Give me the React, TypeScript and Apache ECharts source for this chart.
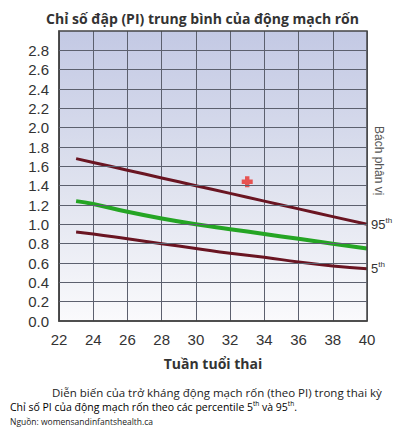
import React, { useEffect, useRef } from "react";
import * as echarts from "echarts";

const weeks = [23, 24, 26, 28, 30, 32, 34, 36, 38, 40];
const p95 = [1.68, 1.64, 1.56, 1.48, 1.40, 1.32, 1.24, 1.16, 1.08, 1.0];
const mean = [1.24, 1.21, 1.13, 1.06, 1.0, 0.95, 0.9, 0.85, 0.8, 0.75];
const p5 = [0.92, 0.9, 0.85, 0.8, 0.75, 0.7, 0.66, 0.61, 0.57, 0.54];
const marker = [[33, 1.44]];
const xRange = [22, 40];
const yRange = [0, 3];
const yTicks = [0.2, 0.4, 0.6, 0.8, 1.0, 1.2, 1.4, 1.6, 1.8, 2.0, 2.2, 2.4, 2.6, 2.8];

const title = "Chỉ số đập (PI) trung bình của động mạch rốn";
const xName = "Tuần tuổi thai";
const sideLabel = "Bách phân vị";
const caption1 = "Diễn biến của trở kháng động mạch rốn (theo PI) trong thai kỳ";
const source = "Nguồn: womensandinfantshealth.ca";

const zip = (xs: number[], ys: number[]) => xs.map((x, i) => [x, ys[i]]);

export default function App() {
  const ref = useRef<HTMLDivElement>(null);
  useEffect(() => {
    const chart = echarts.init(ref.current!, null, { renderer: "svg" });
    const maroon = "#6a1522";
    const gridColor = "#5c606e";
    const supRich = {
      b: { fontSize: 13, color: "#333", fontFamily: "Liberation Sans" },
      s: { fontSize: 8, color: "#333", verticalAlign: "top", padding: [0, 0, 8, 0], fontFamily: "Liberation Sans" },
    };
    chart.setOption({
      animation: false,
      backgroundColor: "#ffffff",
      title: {
        text: title,
        left: "center",
        top: 6,
        textStyle: { fontFamily: "Open Sans", fontWeight: "bold", fontSize: 14, color: "#333" },
      },
      grid: {
        left: 59,
        right: 38,
        top: 31,
        bottom: 112,
        show: true,
        borderColor: "#444",
        borderWidth: 1.5,
        z: 4,
      },
      xAxis: {
        type: "value",
        min: xRange[0],
        max: xRange[1],
        interval: 2,
        name: xName,
        nameLocation: "middle",
        nameGap: 35,
        nameTextStyle: { fontFamily: "Open Sans", fontWeight: "bold", fontSize: 14, color: "#333" },
        axisLine: { lineStyle: { color: "#444", width: 1.5 } },
        axisTick: { show: false },
        axisLabel: { fontFamily: "Liberation Sans", fontSize: 15, color: "#333", margin: 11 },
        splitLine: { show: true, lineStyle: { color: gridColor, width: 1 } },
        z: 1,
      },
      yAxis: {
        type: "value",
        min: yRange[0],
        max: yRange[1],
        interval: 0.2,
        axisLine: { show: true, lineStyle: { color: "#444", width: 1.5 } },
        axisTick: { show: false },
        axisLabel: {
          fontFamily: "Liberation Sans",
          fontSize: 15,
          color: "#333",
          margin: 10,
          formatter: (v: number) => (v > 2.9 ? "" : v.toFixed(1)),
        },
        splitLine: { show: false },
        z: 1,
      },
      graphic: [
        {
          type: "text",
          x: 385,
          y: 126,
          rotation: -Math.PI / 2,
          style: { text: sideLabel, fontFamily: "Liberation Sans", fontSize: 12, fill: "#555" },
        },
        {
          type: "text",
          x: 52,
          y: 386,
          style: { text: caption1, fontFamily: "Open Sans", fontSize: 11.5, fill: "#222" },
        },
        {
          type: "text",
          x: 10,
          y: 400,
          style: {
            text: "{a|Chỉ số PI của động mạch rốn theo các percentile 5}{s|th}{a| và 95}{s|th}{a|.}",
            rich: {
              a: { fontFamily: "Open Sans", fontSize: 10.5, color: "#222" },
              s: { fontFamily: "Open Sans", fontSize: 6.5, color: "#222", verticalAlign: "top", padding: [0, 0, 7, 0] },
            },
          },
        },
        {
          type: "text",
          x: 10,
          y: 417,
          style: { text: source, fontFamily: "Open Sans", fontSize: 8.5, fill: "#222" },
        },
      ],
      series: [
        {
          // plot background (lavender gradient), filled down to the x axis
          type: "line",
          data: [
            [xRange[0], yRange[1]],
            [xRange[1], yRange[1]],
          ],
          symbol: "none",
          silent: true,
          z: 0,
          lineStyle: { width: 0, opacity: 0 },
          areaStyle: {
            opacity: 1,
            color: new echarts.graphic.LinearGradient(0, 0, 0, 1, [
              { offset: 0, color: "#c3c9e4" },
              { offset: 0.55, color: "#e0e3ef" },
              { offset: 1, color: "#fafafc" },
            ]),
          },
        },
        {
          // horizontal gridlines
          type: "line",
          data: [],
          silent: true,
          z: 1,
          markLine: {
            silent: true,
            symbol: ["none", "none"],
            label: { show: false },
            lineStyle: { color: gridColor, width: 1, type: "solid" },
            data: yTicks.map((v) => ({ yAxis: v })),
          },
        },
        {
          type: "line",
          data: zip(weeks, p95),
          smooth: true,
          symbol: "none",
          z: 3,
          lineStyle: { color: maroon, width: 3 },
          endLabel: { show: true, formatter: "{b|95}{s|th}", rich: supRich, distance: 4 },
        },
        {
          type: "line",
          data: zip(weeks, mean),
          smooth: true,
          symbol: "none",
          z: 3,
          lineStyle: { color: "#25a524", width: 4 },
        },
        {
          type: "line",
          data: zip(weeks, p5),
          smooth: true,
          symbol: "none",
          z: 3,
          lineStyle: { color: maroon, width: 3 },
          endLabel: { show: true, formatter: "{b|5}{s|th}", rich: supRich, distance: 4 },
        },
        {
          type: "scatter",
          data: marker,
          z: 3,
          symbol: "path://M3,0 H7 V3 H10 V7 H7 V10 H3 V7 H0 V3 H3 Z",
          symbolSize: 11,
          itemStyle: { color: "#e8302a" },
        },
      ],
    });
    return () => chart.dispose();
  }, []);
  return (
    <div
      ref={ref}
      style={{ position: "absolute", left: 0, top: 0, width: 405, height: 433 }}
    />
  );
}
